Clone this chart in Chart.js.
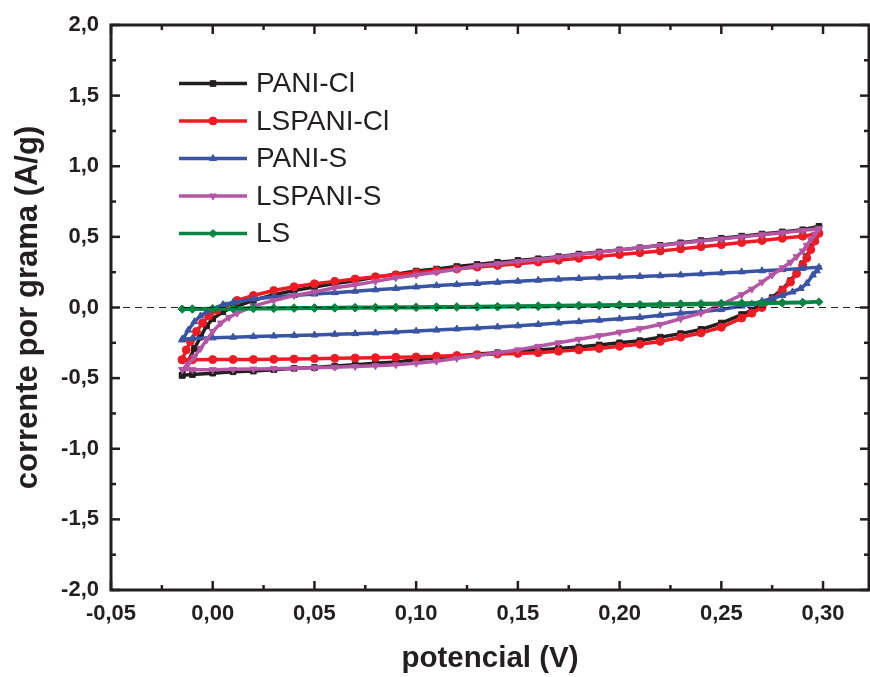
<!DOCTYPE html>
<html><head><meta charset="utf-8">
<script src="https://cdn.jsdelivr.net/npm/chart.js@4.4.0/dist/chart.umd.min.js"></script>
<style>html,body{margin:0;padding:0;background:#fff;overflow:hidden}canvas{display:block}</style>
</head><body>
<canvas id="c" width="870" height="677"></canvas>
<script>
// ---- data (potential in V, current in A/g) ----
const paniCl_V = [-0.015,-0.012,-0.009,-0.006,-0.003,0.000,0.005,0.010,0.020,0.030,0.040,0.050,0.060,0.070,0.080,0.090,0.100,0.110,0.120,0.130,0.140,0.150,0.160,0.170,0.180,0.190,0.200,0.210,0.220,0.230,0.240,0.250,0.260,0.270,0.280,0.290,0.298,
  0.296,0.294,0.292,0.290,0.287,0.284,0.280,0.275,0.270,0.265,0.260,0.250,0.240,0.230,0.220,0.210,0.200,0.190,0.180,0.170,0.160,0.150,0.140,0.130,0.120,0.110,0.100,0.090,0.080,0.070,0.060,0.050,0.040,0.030,0.020,0.010,0.000,-0.010,-0.015];
const paniCl_I = [-0.48,-0.38,-0.29,-0.21,-0.13,-0.08,-0.03,0.00,0.05,0.09,0.12,0.145,0.17,0.19,0.215,0.235,0.258,0.272,0.29,0.305,0.32,0.333,0.345,0.36,0.378,0.393,0.408,0.423,0.44,0.458,0.474,0.49,0.505,0.52,0.535,0.55,0.575,
  0.50,0.43,0.36,0.31,0.245,0.19,0.13,0.07,0.025,-0.02,-0.05,-0.11,-0.155,-0.185,-0.21,-0.235,-0.25,-0.265,-0.28,-0.29,-0.30,-0.31,-0.32,-0.33,-0.345,-0.355,-0.37,-0.385,-0.395,-0.405,-0.415,-0.425,-0.43,-0.44,-0.45,-0.455,-0.465,-0.475,-0.48];

const lspaniCl_V = [-0.015,-0.013,-0.011,-0.008,-0.005,-0.002,0.002,0.006,0.012,0.020,0.030,0.040,0.050,0.060,0.070,0.080,0.090,0.100,0.110,0.120,0.130,0.140,0.150,0.160,0.170,0.180,0.190,0.200,0.210,0.220,0.230,0.240,0.250,0.260,0.270,0.280,0.290,0.298,
  0.296,0.294,0.292,0.290,0.287,0.284,0.280,0.275,0.270,0.265,0.260,0.250,0.240,0.230,0.220,0.210,0.200,0.190,0.180,0.170,0.160,0.150,0.140,0.130,0.120,0.110,0.100,0.090,0.080,0.070,0.060,0.050,0.040,0.030,0.020,0.010,0.000,-0.010,-0.015];
const lspaniCl_I = [-0.37,-0.30,-0.24,-0.17,-0.11,-0.06,-0.02,0.01,0.05,0.085,0.12,0.147,0.168,0.185,0.202,0.218,0.232,0.246,0.26,0.273,0.286,0.298,0.31,0.322,0.335,0.348,0.362,0.375,0.388,0.40,0.415,0.43,0.445,0.46,0.475,0.49,0.505,0.525,
  0.47,0.41,0.35,0.30,0.24,0.18,0.12,0.055,0.0,-0.04,-0.075,-0.14,-0.18,-0.21,-0.24,-0.26,-0.275,-0.29,-0.30,-0.31,-0.32,-0.325,-0.33,-0.335,-0.34,-0.345,-0.35,-0.352,-0.355,-0.358,-0.36,-0.362,-0.365,-0.367,-0.368,-0.368,-0.369,-0.37,-0.37];

const paniS_V = [-0.015,-0.012,-0.009,-0.006,-0.003,0.000,0.005,0.010,0.020,0.030,0.040,0.050,0.060,0.070,0.080,0.090,0.100,0.110,0.120,0.130,0.140,0.150,0.160,0.170,0.180,0.190,0.200,0.210,0.220,0.230,0.240,0.250,0.260,0.270,0.280,0.290,0.298,
  0.297,0.295,0.292,0.289,0.285,0.280,0.275,0.270,0.265,0.260,0.250,0.240,0.230,0.220,0.210,0.200,0.190,0.180,0.170,0.160,0.150,0.140,0.130,0.120,0.110,0.100,0.090,0.080,0.070,0.060,0.050,0.040,0.030,0.020,0.010,0.000,-0.010,-0.015];
const paniS_I = [-0.23,-0.16,-0.10,-0.06,-0.03,-0.01,0.02,0.035,0.06,0.075,0.085,0.095,0.105,0.115,0.125,0.135,0.145,0.155,0.162,0.17,0.178,0.186,0.193,0.20,0.205,0.21,0.215,0.22,0.225,0.23,0.238,0.245,0.252,0.26,0.268,0.277,0.285,
  0.26,0.23,0.17,0.135,0.11,0.085,0.065,0.045,0.025,0.01,-0.015,-0.03,-0.04,-0.055,-0.07,-0.08,-0.09,-0.10,-0.11,-0.12,-0.13,-0.138,-0.145,-0.152,-0.16,-0.167,-0.173,-0.18,-0.185,-0.19,-0.195,-0.198,-0.202,-0.206,-0.21,-0.215,-0.22,-0.225];

const lspaniS_V = [-0.015,-0.012,-0.009,-0.006,-0.003,0.000,0.004,0.008,0.012,0.020,0.030,0.040,0.050,0.060,0.070,0.080,0.090,0.100,0.110,0.120,0.130,0.140,0.150,0.160,0.170,0.180,0.190,0.200,0.210,0.220,0.230,0.240,0.250,0.260,0.270,0.280,0.290,0.298,
  0.296,0.294,0.292,0.290,0.287,0.284,0.280,0.275,0.270,0.265,0.260,0.250,0.240,0.230,0.220,0.210,0.200,0.190,0.180,0.170,0.160,0.150,0.140,0.130,0.120,0.110,0.100,0.090,0.080,0.070,0.060,0.050,0.040,0.030,0.020,0.010,0.000,-0.010,-0.015];
const lspaniS_I = [-0.44,-0.40,-0.35,-0.29,-0.23,-0.17,-0.11,-0.07,-0.04,0.01,0.05,0.085,0.11,0.14,0.16,0.185,0.21,0.23,0.25,0.27,0.295,0.31,0.325,0.34,0.358,0.375,0.392,0.408,0.423,0.44,0.455,0.47,0.485,0.50,0.515,0.53,0.545,0.56,
  0.52,0.48,0.44,0.40,0.36,0.32,0.28,0.23,0.18,0.13,0.09,0.02,-0.04,-0.08,-0.12,-0.15,-0.175,-0.20,-0.225,-0.25,-0.275,-0.30,-0.32,-0.34,-0.36,-0.38,-0.395,-0.405,-0.412,-0.418,-0.423,-0.427,-0.43,-0.433,-0.436,-0.438,-0.44,-0.44,-0.44];

const ls_V = [-0.015,-0.010,0.000,0.010,0.020,0.030,0.040,0.050,0.060,0.070,0.080,0.090,0.100,0.110,0.120,0.130,0.140,0.150,0.160,0.170,0.180,0.190,0.200,0.210,0.220,0.230,0.240,0.250,0.260,0.270,0.280,0.290,0.298,
  0.290,0.280,0.270,0.260,0.250,0.240,0.230,0.220,0.210,0.200,0.190,0.180,0.170,0.160,0.150,0.140,0.130,0.120,0.110,0.100,0.090,0.080,0.070,0.060,0.050,0.040,0.030,0.020,0.010,0.000,-0.010,-0.015];
const ls_I = [-0.01,-0.009,-0.007,-0.005,-0.004,-0.003,-0.002,-0.001,0.0,0.001,0.002,0.003,0.004,0.005,0.006,0.007,0.008,0.01,0.012,0.014,0.016,0.018,0.02,0.022,0.024,0.026,0.028,0.03,0.032,0.034,0.036,0.038,0.04,
  0.034,0.031,0.028,0.026,0.024,0.022,0.02,0.018,0.016,0.014,0.012,0.01,0.008,0.006,0.005,0.003,0.002,0.001,0.0,-0.001,-0.002,-0.003,-0.004,-0.005,-0.006,-0.007,-0.008,-0.009,-0.01,-0.011,-0.012,-0.012];

const seriesNames = ['PANI-Cl','LSPANI-Cl','PANI-S','LSPANI-S','LS'];
const xTickLabels = ['-0,05','0,00','0,05','0,10','0,15','0,20','0,25','0,30'];
const yTickLabels = ['-2,0','-1,5','-1,0','-0,5','0,0','0,5','1,0','1,5','2,0'];
const xTitle = 'potencial (V)';
const yTitle = 'corrente por grama (A/g)';

// ---- styling ----
const seriesV = [paniCl_V, lspaniCl_V, paniS_V, lspaniS_V, ls_V];
const seriesI = [paniCl_I, lspaniCl_I, paniS_I, lspaniS_I, ls_I];
const colors = ['#231f20','#ed1c24','#3a54a4','#b556a5','#0a8443'];
const markers = ['rect','circle','triangle','triangle','rectRot'];
const rotations = [0,0,0,180,0];
const INK = '#231f20';
const FONT = "'Liberation Sans', Arial, Helvetica, sans-serif";

const datasets = seriesNames.map((name, i) => ({
  label: name,
  data: seriesV[i].map((v, k) => ({x: v, y: seriesI[i][k]})),
  showLine: true,
  borderColor: colors[i],
  backgroundColor: colors[i],
  pointBackgroundColor: colors[i],
  pointBorderColor: colors[i],
  borderWidth: 3.5,
  pointStyle: markers[i],
  pointRotation: rotations[i],
  pointRadius: 4,
  pointBorderWidth: 1,
  tension: 0,
  order: seriesNames.length - i
}));

function drawMarker(ctx, style, rot, r, x, y, color) {
  ctx.save();
  ctx.fillStyle = color; ctx.strokeStyle = color; ctx.lineWidth = 1;
  if (Chart.helpers && Chart.helpers.drawPoint) {
    Chart.helpers.drawPoint(ctx, {pointStyle: style, rotation: rot, radius: r, borderWidth: 1}, x, y);
  }
  ctx.restore();
}

const framePlugin = {
  id: 'frame',
  afterDatasetsDraw(chart) {
    const {ctx, chartArea: a, scales: {x, y}} = chart;
    ctx.save();
    // dashed zero line
    const y0 = y.getPixelForValue(0);
    ctx.strokeStyle = INK; ctx.lineWidth = 1.2; ctx.setLineDash([7, 5]);
    ctx.beginPath(); ctx.moveTo(a.left, y0); ctx.lineTo(a.right, y0); ctx.stroke();
    ctx.setLineDash([]);
    // frame
    ctx.lineWidth = 3; ctx.strokeStyle = INK;
    ctx.strokeRect(a.left, a.top, a.right - a.left, a.bottom - a.top);
    // ticks
    ctx.lineWidth = 2.5;
    const xt = x.ticks.map(t => t.value);
    const yt = y.ticks.map(t => t.value);
    const xs = xt[1] - xt[0], ys = yt[1] - yt[0];
    const seg = (x1, y1, x2, y2) => { ctx.beginPath(); ctx.moveTo(x1, y1); ctx.lineTo(x2, y2); ctx.stroke(); };
    xt.forEach(v => {
      [[v, 9], [v + xs / 2, 5]].forEach(([val, len]) => {
        if (val < x.min - 1e-9 || val > x.max + 1e-9) return;
        const px = x.getPixelForValue(val);
        seg(px, a.bottom, px, a.bottom - len);
        seg(px, a.top, px, a.top + len);
      });
    });
    yt.forEach(v => {
      [[v, 9], [v + ys / 2, 5]].forEach(([val, len]) => {
        if (val < y.min - 1e-9 || val > y.max + 1e-9) return;
        const py = y.getPixelForValue(val);
        seg(a.left, py, a.left + len, py);
        seg(a.right, py, a.right - len, py);
      });
    });
    // legend
    const lx0 = 179, lx1 = 247, ty0 = 83.5, dy = 37.5;
    ctx.font = '28px ' + FONT;
    ctx.textBaseline = 'middle';
    ctx.textAlign = 'left';
    seriesNames.forEach((name, i) => {
      const ly = ty0 + i * dy;
      ctx.strokeStyle = colors[i]; ctx.lineWidth = 3.5;
      seg(lx0, ly, lx1, ly);
      drawMarker(ctx, markers[i], rotations[i], 4, (lx0 + lx1) / 2, ly, colors[i]);
      ctx.fillStyle = INK;
      ctx.fillText(name, 256, ly + 1);
    });
    ctx.restore();
  }
};

new Chart(document.getElementById('c'), {
  type: 'scatter',
  data: {datasets},
  options: {
    responsive: false,
    animation: false,
    devicePixelRatio: 1,
    layout: {autoPadding: false, padding: {left: 0, right: 1, top: 25, bottom: 0}},
    plugins: {legend: {display: false}, tooltip: {enabled: false}},
    scales: {
      x: {
        type: 'linear', min: -0.05, max: 0.3226,
        grid: {display: false, drawTicks: false},
        border: {display: false},
        ticks: {stepSize: 0.05, includeBounds: false, padding: 11, color: INK,
          font: {family: FONT, size: 22, weight: 'bold'},
          callback: (v, i) => xTickLabels[i]},
        title: {display: true, text: xTitle, color: INK, padding: {top: 0, bottom: 0},
          font: {family: FONT, size: 29.5, weight: 'bold'}},
        afterFit: s => { s.height = 87; s.paddingLeft = 0; s.paddingRight = 0; }
      },
      y: {
        type: 'linear', min: -2, max: 2,
        grid: {display: false, drawTicks: false},
        border: {display: false},
        ticks: {stepSize: 0.5, padding: 12, color: INK,
          font: {family: FONT, size: 22, weight: 'bold'},
          callback: (v, i) => yTickLabels[i]},
        title: {display: true, text: yTitle, color: INK, padding: {top: 10, bottom: 0},
          font: {family: FONT, size: 31, weight: 'bold'}},
        afterFit: s => { s.width = 111; s.paddingTop = 0; s.paddingBottom = 0; }
      }
    }
  },
  plugins: [framePlugin]
});
</script>
</body></html>
